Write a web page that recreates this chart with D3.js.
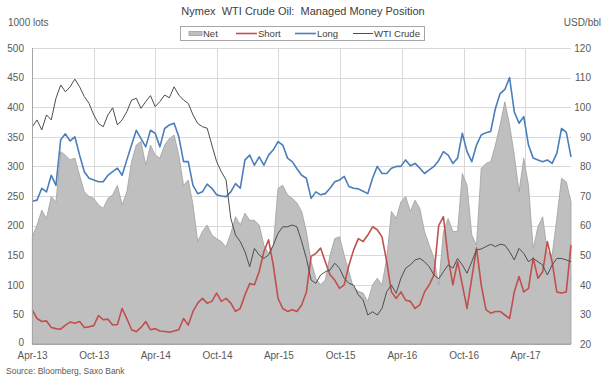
<!DOCTYPE html>
<html>
<head>
<meta charset="utf-8">
<script src="https://cdn.jsdelivr.net/npm/d3@7"></script>
<style>
  html, body { margin: 0; padding: 0; background: #fff; }
  svg { display: block; font-family: "Liberation Sans", Arial, sans-serif; }
</style>
</head>
<body>
<svg id="chart" width="608" height="380"></svg>
<script>
// ---- Data (weekly COT observations sampled every two weeks, 1000 lots; WTI in USD/bbl) ----
const startDate = "2013-04-02";
const stepDays = 14;

const netValues = [
  181,201,226,212,249,240,325,319,311,314,285,257,249,246,235,229,246,252,268,235,257,308,336,342,302,336,319,314,336,347,
  353,319,268,277,235,173,190,201,184,178,173,164,187,215,201,221,209,209,201,167,153,167,263,268,252,246,238,224,
  190,139,111,100,108,150,178,181,150,122,94,89,86,72,100,111,100,145,224,212,240,249,224,243,229,190,167,145,100,
  190,212,190,190,288,268,184,167,297,305,308,336,370,409,370,319,257,314,268,161,198,215,156,150,212,280,274,240
];
const shortValues = [
  57,43,38,39,28,26,25,32,37,35,38,28,29,31,48,41,42,32,33,60,43,24,21,28,38,24,26,22,21,20,
  22,24,43,32,55,69,77,69,72,86,72,77,69,55,60,83,102,100,122,156,176,133,77,60,55,58,55,66,
  88,148,153,162,139,117,108,94,100,133,159,178,173,184,198,193,181,139,88,77,88,74,72,60,66,88,100,117,200,
  215,145,100,139,100,60,111,162,100,58,52,55,55,49,43,88,114,88,94,145,111,122,173,139,88,86,88,167
];
const longValues = [
  241,243,263,257,285,268,345,355,343,350,319,291,280,277,274,274,285,291,297,285,311,336,361,347,333,361,356,333,364,370,
  373,350,308,308,268,254,257,270,263,252,250,249,257,271,263,311,319,302,316,302,319,328,342,336,314,308,296,285,
  280,246,257,252,254,263,274,277,283,266,263,262,258,254,280,300,288,288,297,300,300,311,301,305,297,288,294,300,310,
  325,319,305,314,356,325,308,336,353,357,359,398,423,430,450,392,373,384,336,314,311,308,311,305,322,364,358,316
];
const wtiValues = [
  93.4,95.7,92.3,97.4,95.7,103,107.5,105.2,106.9,109.5,106.9,103.6,101.3,97.4,94.5,93.4,97.4,99.8,94,95.7,98.5,102.4,103,99.6,101.9,103.9,100.2,101.9,104.1,103.2,
  106.9,104.1,102.4,101.3,97.4,94.5,93.4,92.9,87.2,81.6,78.2,75.4,62.5,56.8,54.6,51.2,46.1,52.3,50.1,48.9,50.1,53.4,57.4,59.6,59.6,60.2,59.6,54.6,
  48.9,41.6,40.5,43.3,44.4,45,47.3,45.6,42.2,40.5,39.9,36.6,34.9,29.8,30.9,29.8,32,37.7,39.9,37.1,42.2,45.6,46.7,48.4,48.9,47.8,46.1,43.3,42,
  44.4,46.7,45.6,48.9,46.7,43.9,47.8,51.8,52.1,52.9,53.7,52.9,53.7,53.4,51.2,48.4,52.3,50.6,47.8,48.9,47.8,46.7,43.3,46.7,48.9,48.9,48.4,47.8
];

const leftTicks = [0,50,100,150,200,250,300,350,400,450,500];
const rightTicks = [20,30,40,50,60,70,80,90,100,110,120];
const xTickLabels = ["Apr-13","Oct-13","Apr-14","Oct-14","Apr-15","Oct-15","Apr-16","Oct-16","Apr-17"];
const seriesNames = ["Net","Short","Long","WTI Crude"];

// ---- Build table ----
const parse = d3.timeParse("%Y-%m-%d");
const t0 = parse(startDate);
const dates = netValues.map((_, i) => d3.timeDay.offset(t0, i * stepDays));
const rows = dates.map((d, i) => ({date: d, net: netValues[i], short: shortValues[i], long: longValues[i], wti: wtiValues[i]}));
const parseTick = d3.timeParse("%b-%y");
const tickDates = xTickLabels.map(s => parseTick(s));

// ---- Layout ----
const svg = d3.select("#chart");
const L = 32, R = 571, T = 48, B = 344;

const x = d3.scaleTime().domain([parse("2013-04-01"), dates[dates.length - 1]]).range([L, R]);
const yL = d3.scaleLinear().domain([0, 500]).range([B, T]);
const yR = d3.scaleLinear().domain([20, 120]).range([B, T]);

const textCol = "#595959";
const gridCol = "#d9d9d9";

// gridlines
svg.append("g")
  .selectAll("line.h").data(leftTicks).join("line")
  .attr("x1", L).attr("x2", R)
  .attr("y1", d => Math.round(yL(d)) + 0.5).attr("y2", d => Math.round(yL(d)) + 0.5)
  .attr("stroke", gridCol).attr("stroke-width", 1);
svg.append("g")
  .selectAll("line.v").data(tickDates).join("line")
  .attr("x1", d => Math.round(x(d)) + 0.5).attr("x2", d => Math.round(x(d)) + 0.5)
  .attr("y1", T).attr("y2", B)
  .attr("stroke", gridCol).attr("stroke-width", 1);

// Net area
const area = d3.area().x(d => x(d.date)).y0(yL(0)).y1(d => yL(d.net));
svg.append("path").datum(rows)
  .attr("d", area)
  .attr("fill", "#bfbfbf")
  .attr("stroke", "#9f9f9f")
  .attr("stroke-width", 0.8);

// lines
const lineOf = (key, scale) => d3.line().x(d => x(d.date)).y(d => scale(d[key]));
svg.append("path").datum(rows).attr("d", lineOf("short", yL))
  .attr("fill", "none").attr("stroke", "#c0504d").attr("stroke-width", 1.6).attr("stroke-linejoin", "round");
svg.append("path").datum(rows).attr("d", lineOf("long", yL))
  .attr("fill", "none").attr("stroke", "#4a7ebb").attr("stroke-width", 1.6).attr("stroke-linejoin", "round");
svg.append("path").datum(rows).attr("d", lineOf("wti", yR))
  .attr("fill", "none").attr("stroke", "#4d4d4d").attr("stroke-width", 1).attr("stroke-linejoin", "round");

// axes
const axL = svg.append("g").attr("transform", `translate(${L},0)`)
  .call(d3.axisLeft(yL).tickValues(leftTicks).tickSize(0).tickPadding(8));
const axR = svg.append("g").attr("transform", `translate(${R},0)`)
  .call(d3.axisRight(yR).tickValues(rightTicks).tickSize(0).tickPadding(20));
axR.selectAll("text").attr("text-anchor", "end");
const axB = svg.append("g").attr("transform", `translate(0,${B})`)
  .call(d3.axisBottom(x).tickValues(tickDates).tickFormat(d3.timeFormat("%b-%y")).tickSize(0).tickPadding(8));

[axL, axR, axB].forEach(a => {
  a.select(".domain").remove();
  a.selectAll("text").attr("fill", textCol).style("font-size", "10px")
    .style("font-family", "'Liberation Sans', Arial, sans-serif");
});
// keep the "0" label clear of the first date label
axL.selectAll(".tick").filter(d => d === 0).select("text").attr("dy", "0.1em");
// axis lines
svg.append("line").attr("x1", L + 0.5).attr("x2", L + 0.5).attr("y1", T).attr("y2", B)
  .attr("stroke", "#a6a6a6");
svg.append("line").attr("x1", L).attr("x2", R).attr("y1", B + 0.5).attr("y2", B + 0.5)
  .attr("stroke", "#a6a6a6");

// titles
svg.append("text").attr("x", 303).attr("y", 15).attr("text-anchor", "middle")
  .attr("fill", "#404040").style("font-size", "11px")
  .attr("xml:space", "preserve")
  .text("Nymex  WTI Crude Oil:  Managed Money Position");
svg.append("text").attr("x", 8).attr("y", 26).attr("fill", textCol).style("font-size", "10px").text("1000 lots");
svg.append("text").attr("x", 601).attr("y", 26).attr("text-anchor", "end").attr("fill", textCol).style("font-size", "10px").text("USD/bbl");
svg.append("text").attr("x", 6).attr("y", 374).attr("fill", textCol).style("font-size", "8.5px").text("Source: Bloomberg, Saxo Bank");

// legend
const lg = svg.append("g");
lg.append("rect").attr("x", 180.5).attr("y", 26.5).attr("width", 244).attr("height", 14)
  .attr("fill", "#fff").attr("stroke", "#a6a6a6");
const legendItems = [
  {name: seriesNames[0], kind: "rect", color: "#bfbfbf", x0: 189, x1: 202},
  {name: seriesNames[1], kind: "line", color: "#c0504d", x0: 236, x1: 257},
  {name: seriesNames[2], kind: "line", color: "#4a7ebb", x0: 295, x1: 316},
  {name: seriesNames[3], kind: "line", color: "#4d4d4d", x0: 353, x1: 373}
];
legendItems.forEach(it => {
  if (it.kind === "rect") {
    lg.append("rect").attr("x", it.x0).attr("y", 31.5).attr("width", it.x1 - it.x0).attr("height", 4)
      .attr("fill", it.color).attr("stroke", "#9f9f9f").attr("stroke-width", 0.8);
  } else {
    lg.append("line").attr("x1", it.x0).attr("x2", it.x1).attr("y1", 33.5).attr("y2", 33.5)
      .attr("stroke", it.color).attr("stroke-width", it.name === "WTI Crude" ? 1 : 1.6);
  }
  lg.append("text").attr("x", it.x1 + 1).attr("y", 37).attr("fill", "#404040")
    .style("font-size", "9.5px").text(it.name);
});
</script>
</body>
</html>
